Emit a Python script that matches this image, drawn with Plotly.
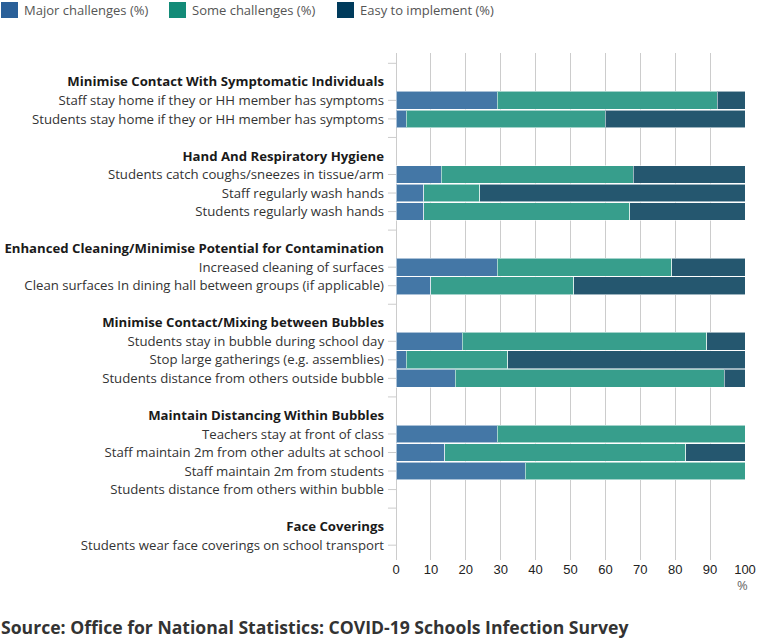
import plotly.graph_objects as go

group_titles = [
    "Minimise Contact With Symptomatic Individuals",
    "Hand And Respiratory Hygiene",
    "Enhanced Cleaning/Minimise Potential for Contamination",
    "Minimise Contact/Mixing between Bubbles",
    "Maintain Distancing Within Bubbles",
    "Face Coverings",
]
item_labels = [
    "Staff stay home if they or HH member has symptoms",
    "Students stay home if they or HH member has symptoms",
    "Students catch coughs/sneezes in tissue/arm",
    "Staff regularly wash hands",
    "Students regularly wash hands",
    "Increased cleaning of surfaces",
    "Clean surfaces In dining hall between groups (if applicable)",
    "Students stay in bubble during school day",
    "Stop large gatherings (e.g. assemblies)",
    "Students distance from others outside bubble",
    "Teachers stay at front of class",
    "Staff maintain 2m from other adults at school",
    "Staff maintain 2m from students",
    "Students distance from others within bubble",
    "Students wear face coverings on school transport",
]
item_group = [0, 0, 1, 1, 1, 2, 2, 3, 3, 3, 4, 4, 4, 4, 5]
major = [29, 3, 13, 8, 8, 29, 10, 19, 3, 17, 29, 14, 37, None, None]
some = [63, 57, 55, 16, 59, 50, 41, 70, 29, 77, 71, 69, 63, None, None]
easy = [8, 40, 32, 76, 33, 21, 49, 11, 68, 6, 0, 17, 0, None, None]

series_names = ["Major challenges (%)", "Some challenges (%)", "Easy to implement (%)"]
bar_colors = ["#4477a6", "#379e8c", "#25576f"]
legend_colors = ["#2a6099", "#138b78", "#003b5c"]

# Build category order: blank, heading, items..., blank, heading, ...
categories = []
tick_text = []
is_heading = []
blank_count = 0
for g, title in enumerate(group_titles):
    blank_count += 1
    categories.append(" " * blank_count)
    tick_text.append("")
    is_heading.append(False)
    categories.append("H::" + title)
    tick_text.append("<b><span style='color:#1a1a1a'>" + title + "</span></b>")
    is_heading.append(True)
    for lab, gi in zip(item_labels, item_group):
        if gi == g:
            categories.append(lab)
            tick_text.append(lab)
            is_heading.append(False)

fig = go.Figure()
for name, vals, col in zip(series_names, [major, some, easy], bar_colors):
    fig.add_trace(go.Bar(
        y=item_labels, x=vals, name=name, orientation="h",
        marker=dict(color=col, line=dict(color="rgba(255,255,255,0.55)", width=1)),
        showlegend=False,
    ))

n = len(categories)
fig.update_layout(
    width=767, height=643,
    margin=dict(l=396, r=22, t=53, b=83, autoexpand=False),
    barmode="stack", bargap=0.04,
    plot_bgcolor="white", paper_bgcolor="white",
    font=dict(family="Open Sans, sans-serif", size=13, color="#333333"),
    xaxis=dict(
        range=[0, 100], dtick=10, tick0=0, automargin=False,
        showgrid=True, gridcolor="#cccccc", gridwidth=1,
        zeroline=True, zerolinecolor="#cccccc", zerolinewidth=1,
        ticks="", tickfont=dict(family="Liberation Sans, Arial, sans-serif", size=13, color="#222222"),
        fixedrange=True,
    ),
    yaxis=dict(
        type="category", categoryorder="array", categoryarray=categories,
        tickmode="array", tickvals=categories, ticktext=tick_text,
        range=[n - 1 + 0.8, -0.556], automargin=False,
        showgrid=False, zeroline=False, ticks="",
        ticklabelstandoff=11,
        tickfont=dict(family="Open Sans, sans-serif", size=13.2, color="#333333"),
    ),
)

# small tick marks on non-heading rows
for cat, h in zip(categories, is_heading):
    if not h:
        fig.add_shape(type="line", xref="x domain", yref="y",
                      x0=-0.023, x1=0, y0=cat, y1=cat,
                      line=dict(color="#cccccc", width=1))

# custom legend at top
plot_w = 767 - 396 - 22
def px_to_xpaper(px):
    return (px - 396) / plot_w
plot_h = 643 - 53 - 83
def py_to_ypaper(py):
    return 1 - (py - 53) / plot_h

legend_x = [1, 169, 337]
for lx, name, col in zip(legend_x, series_names, legend_colors):
    fig.add_shape(type="rect", xref="paper", yref="paper",
                  x0=px_to_xpaper(lx), x1=px_to_xpaper(lx + 17),
                  y0=py_to_ypaper(18), y1=py_to_ypaper(2),
                  fillcolor=col, line=dict(width=0))
    fig.add_annotation(xref="paper", yref="paper", x=px_to_xpaper(lx + 21), y=py_to_ypaper(10),
                       text=name, showarrow=False, xanchor="left", yanchor="middle",
                       font=dict(family="Open Sans, sans-serif", size=13, color="#555555"))

fig.add_annotation(xref="paper", yref="paper", x=px_to_xpaper(742), y=py_to_ypaper(585),
                   text="%", showarrow=False, xanchor="center", yanchor="middle",
                   font=dict(family="Open Sans, sans-serif", size=13, color="#666666"))

fig.add_annotation(xref="paper", yref="paper", x=px_to_xpaper(-1), y=py_to_ypaper(627),
                   text="<b>Source: Office for National Statistics: COVID-19 Schools Infection Survey</b>",
                   showarrow=False, xanchor="left", yanchor="middle",
                   font=dict(family="Open Sans, sans-serif", size=17.6, color="#333333"))

fig.write_html("out.html", config={"displayModeBar": False},
               post_script="document.body.style.margin='0';document.body.style.padding='0';")
